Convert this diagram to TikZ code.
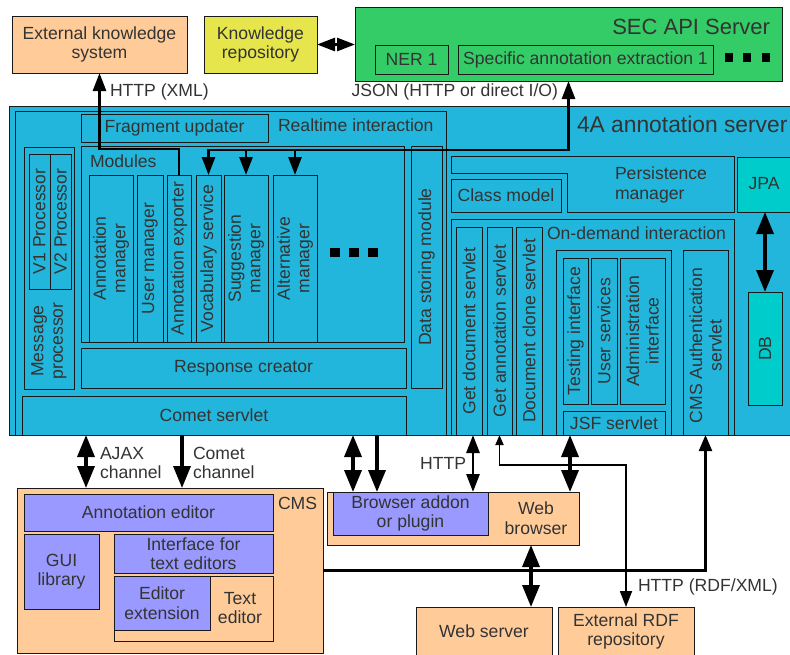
\documentclass[tikz,border=0pt]{standalone}
\usepackage{fontspec}
\setmainfont{Liberation Sans}
\usetikzlibrary{arrows.meta,calc}
\definecolor{peach}{RGB}{255,204,153}
\definecolor{yel}{RGB}{230,230,76}
\definecolor{grn}{RGB}{51,204,102}
\definecolor{srvblue}{RGB}{35,182,220}
\definecolor{tealbox}{RGB}{0,204,204}
\definecolor{purp}{RGB}{153,153,255}
\definecolor{txt}{RGB}{51,51,51}
\definecolor{edge}{RGB}{25,25,25}
\newcommand\mybox[7]{\node[box,#6,minimum width={(#4)-(#2)},minimum height={(#5)-(#3)}] (#1) at ({((#2)+(#4))/2},{((#3)+(#5))/2}) {#7};}
\begin{document}
\begin{tikzpicture}[x=1pt,y=-1pt,
  font=\fontsize{17.6}{19.5}\selectfont,
  box/.style={draw=edge,line width=0.8pt,inner sep=0pt,outer sep=0pt,text=txt,align=center},
  lbl/.style={text=txt,inner sep=0pt,outer sep=0pt,align=center},
  rot/.style={lbl,rotate=90},
  sq/.style={fill=black},
  bighead/.style={line width=3.5pt},
  arrB/.style={bighead,-{Triangle[length=22pt,width=17pt]}},
  darrB/.style={bighead,{Triangle[length=22pt,width=17pt]}-{Triangle[length=22pt,width=17pt]}},
  arrM/.style={line width=2.8pt,-{Triangle[length=18pt,width=13pt]}},
  darrM/.style={line width=2.8pt,{Triangle[length=18pt,width=13pt]}-{Triangle[length=18pt,width=13pt]}},
  arrS/.style={line width=2.2pt,-{Triangle[length=16pt,width=13pt]}},
  darrT/.style={line width=1.8pt,{Triangle[length=10pt,width=8pt]}-{Triangle[length=16pt,width=12pt]}},
]
\useasboundingbox (0,0) rectangle (790,654);
\clip (0,0) rectangle (790,654);

% top row
\mybox{ext}{12}{16}{187}{73}{fill=peach}{External knowledge\\system}
\mybox{kr}{204}{16}{317}{73}{fill=yel}{Knowledge\\repository}
\mybox{sec}{355}{7}{782}{81}{fill=grn}{}
\node[lbl,anchor=east,font=\fontsize{22}{24}\selectfont] (sectitle) at (770,27) {SEC API Server};
\mybox{ner}{375}{45}{448}{74}{fill=grn}{NER 1}
\mybox{sae}{458}{45}{713}{74}{fill=grn}{Specific annotation extraction 1}
\fill[sq] (725,53) rectangle (733,62);
\fill[sq] (743,53) rectangle (751,62);
\fill[sq] (762,53) rectangle (770,62);

\node[lbl,anchor=west] (httpxml) at (110,92) {HTTP (XML)};
\node[lbl,anchor=east] (json) at (558,92) {JSON (HTTP or direct I/O)};

% server
\mybox{srv}{9}{106}{800}{435}{fill=srvblue}{}
\mybox{rt}{15}{111}{446}{435}{fill=srvblue}{}
\node[lbl,anchor=west] (rttitle) at (278,125) {Realtime interaction};
\node[lbl,anchor=west,font=\fontsize{22.8}{24}\selectfont] (srvtitle) at (577,124) {4A annotation server};
\mybox{frag}{81}{114}{268}{142}{}{Fragment updater}
\mybox{msg}{24}{147}{74}{389}{}{}
\mybox{v1}{29}{154}{50}{289}{}{}
\mybox{v2}{50}{154}{71}{289}{}{}
\node[rot] (v1t) at (v1) {V1 Processor};
\node[rot] (v2t) at (v2) {V2 Processor};
\node[rot] (msgt) at (49,341) {Message\\processor};
\mybox{mod}{81}{146}{404}{342}{}{}
\node[lbl,anchor=west] (modt) at (90,161) {Modules};
\mybox{am}{89}{175}{133}{342}{}{}
\mybox{um}{137}{175}{163}{342}{}{}
\mybox{ae}{167}{175}{191}{342}{}{}
\mybox{vs}{196}{175}{221}{342}{}{}
\mybox{sm}{224}{175}{268}{342}{}{}
\mybox{alt}{273}{175}{317}{342}{}{}
\node[rot] (amt) at (am) {Annotation\\manager};
\node[rot] (umt) at (um) {User manager};
\node[rot] (aet) at (ae) {Annotation exporter};
\node[rot] (vst) at (vs) {Vocabulary service};
\node[rot] (smt) at (sm) {Suggestion\\manager};
\node[rot] (altt) at (alt) {Alternative\\manager};
\fill[sq] (330,248) rectangle (340,257);
\fill[sq] (349,248) rectangle (359,257);
\fill[sq] (368,248) rectangle (378,257);
\mybox{rc}{81}{348}{406}{388}{}{Response creator}
\mybox{ds}{411}{146}{442}{388}{}{}
\node[rot] (dst) at (ds) {Data storing module};
\mybox{cs}{22}{396}{406}{435}{}{Comet servlet}

% right side
\draw[draw=edge,line width=0.8pt] (451,156) -- (734,156) -- (734,212) -- (567,212) -- (567,173) -- (451,173) -- cycle;
\node[lbl,anchor=west,align=left] (pmt) at (615,185) {Persistence\\manager};
\mybox{cm}{451}{179}{561}{212}{}{Class model}
\mybox{jpa}{737}{157}{800}{212}{fill=tealbox}{}
\node[lbl] (jpat) at (764,184) {JPA};
\mybox{db}{748}{292}{782}{405}{fill=tealbox}{}
\node[rot] (dbt) at (db) {DB};
\mybox{od}{451}{219}{734}{435}{}{}
\node[lbl,anchor=west] (odt) at (547,233) {On-demand interaction};
\mybox{gd}{456}{227}{482}{435}{}{}
\mybox{ga}{487}{227}{512}{435}{}{}
\mybox{dc}{516}{227}{542}{435}{}{}
\node[rot] (gdt) at (gd) {Get document servlet};
\node[rot] (gat) at (ga) {Get annotation servlet};
\node[rot] (dct) at (dc) {Document clone servlet};
\mybox{grp}{556}{250}{671}{435}{}{}
\mybox{ti}{563}{258}{588}{404}{}{}
\mybox{us}{591}{258}{617}{404}{}{}
\mybox{ai}{620}{258}{665}{404}{}{}
\node[rot] (tit) at (ti) {Testing interface};
\node[rot] (ust) at (us) {User services};
\node[rot] (ait) at (ai) {Administration\\interface};
\mybox{jsf}{563}{411}{665}{435}{}{JSF servlet}
\mybox{ca}{683}{250}{728}{435}{}{}
\node[rot] (cat) at ($(ca)+(0,3)$) {CMS Authentication\\servlet};

% bottom
\mybox{cms}{17}{488}{323}{653}{fill=peach}{}
\node[lbl,anchor=west] (cmst) at (278,503) {CMS};
\mybox{aed}{24}{494}{273}{531}{fill=purp}{Annotation editor}
\mybox{gui}{24}{534}{99}{609}{fill=purp}{GUI\\library}
\mybox{ife}{114}{534}{273}{573}{fill=purp}{Interface for\\text editors}
\mybox{ted}{114}{576}{273}{641}{fill=peach}{}
\node[lbl] (tedt) at (240,608) {Text\\editor};
\mybox{eex}{114}{576}{210}{630}{fill=purp}{Editor\\extension}
\mybox{wb}{327}{492}{579}{545}{fill=peach}{}
\mybox{bap}{333}{492}{488}{535}{fill=purp}{Browser addon\\or plugin}
\node[lbl] (wbt) at (536,518) {Web\\browser};
\mybox{ws}{416}{607}{552}{656}{fill=peach}{Web server}
\mybox{rdf}{558}{607}{694}{656}{fill=peach}{External RDF\\repository}

\node[lbl,anchor=west,align=left] (ajaxt) at (100,463) {AJAX\\channel};
\node[lbl,anchor=west,align=left] (comett) at (193,463) {Comet\\channel};
\node[lbl,anchor=east] (httpt) at (466,463) {HTTP};
\node[lbl,anchor=west] (rdft) at (638,587) {HTTP (RDF/XML)};

% connectors
\draw[darrM] (kr.east) -- (sec.west |- kr.east);
\coordinate (j1) at (99.5,149);
\draw[arrM] (ae.north) |- (j1) -- (ext.south);
\coordinate (j2) at (0,150);
\draw[darrM] (sec.south) -- (sec.south |- j2) -| (vs.north);
\draw[arrM] (sm.north |- j2) -- (sm.north);
\draw[arrM] (alt.north |- j2) -- (alt.north);
\draw[darrB] (jpa.south -| db.north) -- (db.north);

\coordinate (xa) at (86,0);
\coordinate (xc) at (182,0);
\coordinate (xb1) at (353,0);
\coordinate (xb2) at (377,0);
\coordinate (xh) at (473,0);
\coordinate (xj) at (570,0);
\coordinate (xw) at (531,0);
\draw[darrB] (srv.south -| xa) -- (cms.north -| xa);
\draw[arrB] (srv.south -| xc) -- (cms.north -| xc);
\draw[darrB] (srv.south -| xb1) -- (wb.north -| xb1);
\draw[arrB] (srv.south -| xb2) -- (wb.north -| xb2);
\draw[darrM] (srv.south -| xh) -- (wb.north -| xh);
\draw[darrB] (srv.south -| xj) -- (wb.north -| xj);
\draw[darrB] (wb.south -| xw) -- (ws.north -| xw);
\coordinate (j3) at (0,465);
\draw[darrT] (ga.south) -- (ga.south |- j3) -| (rdf.north);
\draw[arrS] (cms.east) -| (ca.south);
\end{tikzpicture}
\end{document}
